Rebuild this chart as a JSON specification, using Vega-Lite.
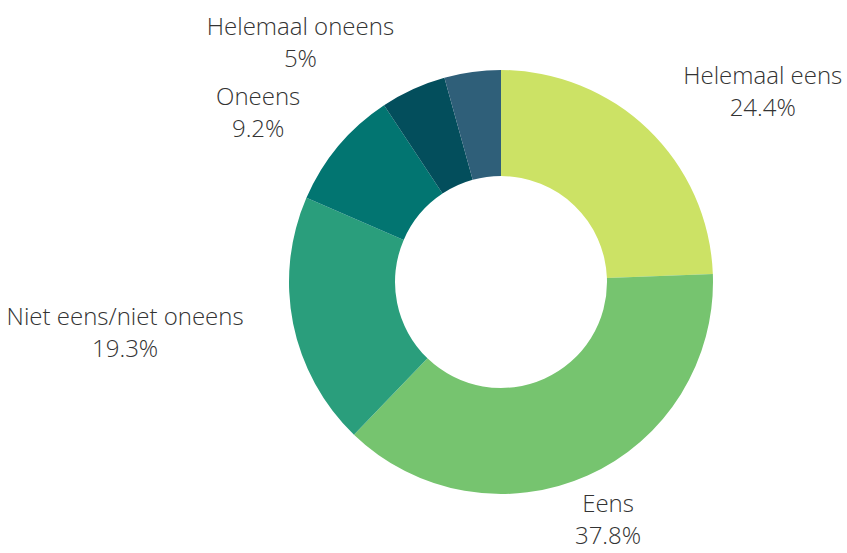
{
  "$schema": "https://vega.github.io/schema/vega-lite/v6.json",
  "width": 692,
  "height": 542,
  "padding": {"left": 155, "top": 11, "right": 0, "bottom": 0},
  "autosize": {"type": "none"},
  "background": "white",
  "config": {"view": {"stroke": null}},
  "data": {
    "values": [
      {"category": "Helemaal eens", "value": 24.4, "order": 1, "label": "Helemaal eens\n24.4%"},
      {"category": "Eens", "value": 37.8, "order": 2, "label": "Eens\n37.8%"},
      {"category": "Niet eens/niet oneens", "value": 19.3, "order": 3, "label": "Niet eens/niet oneens\n19.3%"},
      {"category": "Oneens", "value": 9.2, "order": 4, "label": "Oneens\n9.2%"},
      {"category": "Helemaal oneens", "value": 5.0, "order": 5, "label": "Helemaal oneens\n5%"},
      {"category": "Geen antwoord", "value": 4.3, "order": 6, "label": ""}
    ]
  },
  "encoding": {
    "theta": {"field": "value", "type": "quantitative", "stack": true},
    "order": {"field": "order", "type": "quantitative"}
  },
  "layer": [
    {
      "mark": {"type": "arc", "outerRadius": 212, "innerRadius": 106},
      "encoding": {
        "color": {
          "field": "category",
          "type": "nominal",
          "legend": null,
          "scale": {
            "domain": ["Helemaal eens", "Eens", "Niet eens/niet oneens", "Oneens", "Helemaal oneens", "Geen antwoord"],
            "range": ["#cce265", "#76c46f", "#2a9e7c", "#027571", "#034e5c", "#2f5f79"]
          }
        }
      }
    },
    {
      "mark": {"type": "text", "radius": 262, "dx": 80, "dy": -16, "align": "center", "baseline": "middle", "font": "Open Sans", "fontWeight": 300, "fontSize": 24, "lineHeight": 32, "lineBreak": "\n", "fill": "#333333"},
      "encoding": {
        "text": {"field": "label", "type": "nominal"},
        "opacity": {"condition": {"test": "datum.category === 'Helemaal eens'", "value": 1}, "value": 0}
      }
    },
    {
      "mark": {"type": "text", "radius": 262, "dx": 0, "dy": -16, "align": "center", "baseline": "middle", "font": "Open Sans", "fontWeight": 300, "fontSize": 24, "lineHeight": 32, "lineBreak": "\n", "fill": "#333333"},
      "encoding": {
        "text": {"field": "label", "type": "nominal"},
        "opacity": {"condition": {"test": "datum.category === 'Eens'", "value": 1}, "value": 0}
      }
    },
    {
      "mark": {"type": "text", "radius": 262, "dx": -119, "dy": -16, "align": "center", "baseline": "middle", "font": "Open Sans", "fontWeight": 300, "fontSize": 24, "lineHeight": 32, "lineBreak": "\n", "fill": "#333333"},
      "encoding": {
        "text": {"field": "label", "type": "nominal"},
        "opacity": {"condition": {"test": "datum.category === 'Niet eens/niet oneens'", "value": 1}, "value": 0}
      }
    },
    {
      "mark": {"type": "text", "radius": 262, "dx": -42, "dy": -16, "align": "center", "baseline": "middle", "font": "Open Sans", "fontWeight": 300, "fontSize": 24, "lineHeight": 32, "lineBreak": "\n", "fill": "#333333"},
      "encoding": {
        "text": {"field": "label", "type": "nominal"},
        "opacity": {"condition": {"test": "datum.category === 'Oneens'", "value": 1}, "value": 0}
      }
    },
    {
      "mark": {"type": "text", "radius": 262, "dx": -92, "dy": -16, "align": "center", "baseline": "middle", "font": "Open Sans", "fontWeight": 300, "fontSize": 24, "lineHeight": 32, "lineBreak": "\n", "fill": "#333333"},
      "encoding": {
        "text": {"field": "label", "type": "nominal"},
        "opacity": {"condition": {"test": "datum.category === 'Helemaal oneens'", "value": 1}, "value": 0}
      }
    }
  ]
}
